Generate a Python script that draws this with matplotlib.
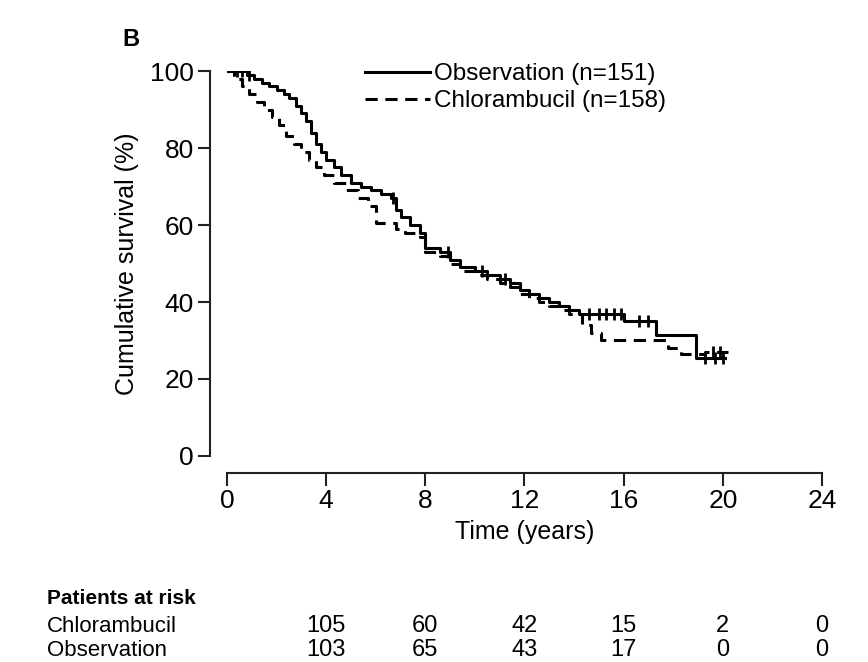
import numpy as np
import matplotlib
matplotlib.use('Agg')
import matplotlib.pyplot as plt
import matplotlib.transforms as mtransforms

plt.rcParams['font.family'] = ['Liberation Sans', 'DejaVu Sans']

# Kaplan-Meier step data (years, % surviving)
obs_t = [0, 0.8, 1.1, 1.4, 1.7, 2.0, 2.3, 2.5, 2.8, 3.0, 3.2, 3.4, 3.6, 3.8, 4.0,
         4.3, 4.6, 5.0, 5.4, 5.8, 6.2, 6.6, 6.8, 7.0, 7.4, 7.8, 8.0, 8.6, 9.0, 9.4,
         10.0, 10.5, 11.0, 11.4, 11.8, 12.2, 12.6, 13.0, 13.4, 13.8, 14.2, 16.0,
         17.3, 18.9, 20.1]
obs_s = [100, 99, 98, 97, 96, 95, 94, 93, 91, 89, 87, 84, 81, 79, 77,
         75, 73, 71, 70, 69, 68, 67, 64, 62, 60, 58, 54, 53, 51, 49,
         48, 47, 46, 45, 43, 42, 41, 40, 39, 38, 37, 35,
         31.5, 25.5, 25.5]
obs_cens = [0.4, 0.6, 0.9, 6.7, 8.9, 10.3, 11.2, 14.6, 15.0, 15.3, 15.6, 15.9,
            16.6, 17.0, 19.3, 19.7, 20.0]

chl_t = [0, 0.3, 0.6, 0.9, 1.2, 1.5, 1.8, 2.1, 2.4, 2.7, 3.0, 3.3, 3.6, 3.9, 4.3,
         4.8, 5.3, 5.7, 6.0, 6.8, 7.2, 7.8, 8.0, 8.6, 9.0, 9.4, 10.0, 10.5, 11.0,
         11.4, 11.8, 12.2, 12.6, 13.0, 13.4, 13.8, 14.3, 14.7, 15.1, 17.8, 18.3,
         19.3, 20.2]
chl_s = [100, 98, 96, 94, 92, 90, 88, 86, 83, 81, 79, 77, 75, 73, 71,
         69, 67, 65, 60.5, 59, 58, 57, 53, 52, 50, 48, 47, 46, 45,
         44, 42, 41, 40, 39, 38, 37, 34, 32, 30, 28, 26.5,
         27, 27]
chl_cens = [19.6, 19.9]

risk_times = [4, 8, 12, 16, 20, 24]
risk_chl = [105, 60, 42, 15, 2, 0]
risk_obs = [103, 65, 43, 17, 0, 0]


def value_at(t, s, x):
    idx = np.searchsorted(t, x, side='right') - 1
    return np.array(s)[idx]


fig = plt.figure(figsize=(8.68, 6.62), dpi=100)
ax = fig.add_axes([0.2615, 0.3112, 0.6855, 0.5815])

ax.step(obs_t, obs_s, where='post', color='black', lw=2.2,
        label='Observation (n=151)')
ax.step(chl_t, chl_s, where='post', color='black', lw=2.2, ls=(0, (4, 2.5)),
        label='Chlorambucil (n=158)')
ax.plot(obs_cens, value_at(obs_t, obs_s, obs_cens), ls='none', marker='|',
        color='black', ms=8, mew=2)
ax.plot(chl_cens, value_at(chl_t, chl_s, chl_cens), ls='none', marker='|',
        color='black', ms=8, mew=2)

ax.set_xlim(0, 24)
ax.set_ylim(0, 100)
ax.set_xticks(np.arange(0, 25, 4))
ax.set_yticks(np.arange(0, 101, 20))
for side in ['top', 'right']:
    ax.spines[side].set_visible(False)
for side in ['left', 'bottom']:
    ax.spines[side].set_position(('outward', 12))
    ax.spines[side].set_linewidth(1.5)
    ax.spines[side].set_color('#222222')
ax.tick_params(direction='out', length=9, width=1.5, labelsize=19,
               color='#222222', pad=3)
ax.set_xlabel('Time (years)', fontsize=18, labelpad=5)
ax.set_ylabel('Cumulative survival (%)', fontsize=18, labelpad=8)

ax.legend(loc='upper left', bbox_to_anchor=(0.215, 1.045), frameon=False,
          fontsize=17.5, handlelength=2.7, handletextpad=0.15,
          labelspacing=0.2, borderaxespad=0)

fig.text(122 / 868, 1 - 40 / 662, 'B', fontsize=17, fontweight='bold',
         va='center', ha='left')

# patients at risk table
trans = mtransforms.blended_transform_factory(ax.transData, fig.transFigure)
row1 = 1 - 626 / 662
row2 = 1 - 650 / 662
fig.text(47 / 868, 1 - 599 / 662, 'Patients at risk', fontsize=15,
         fontweight='bold', va='center', ha='left')
fig.text(47 / 868, row1, 'Chlorambucil', fontsize=16,
         va='center', ha='left')
fig.text(47 / 868, row2, 'Observation', fontsize=16,
         va='center', ha='left')
for x, a, b in zip(risk_times, risk_chl, risk_obs):
    ax.text(x, row1, str(a), transform=trans, fontsize=17,
            va='center', ha='center')
    ax.text(x, row2, str(b), transform=trans, fontsize=17,
            va='center', ha='center')

fig.savefig('out.png', dpi=100)
